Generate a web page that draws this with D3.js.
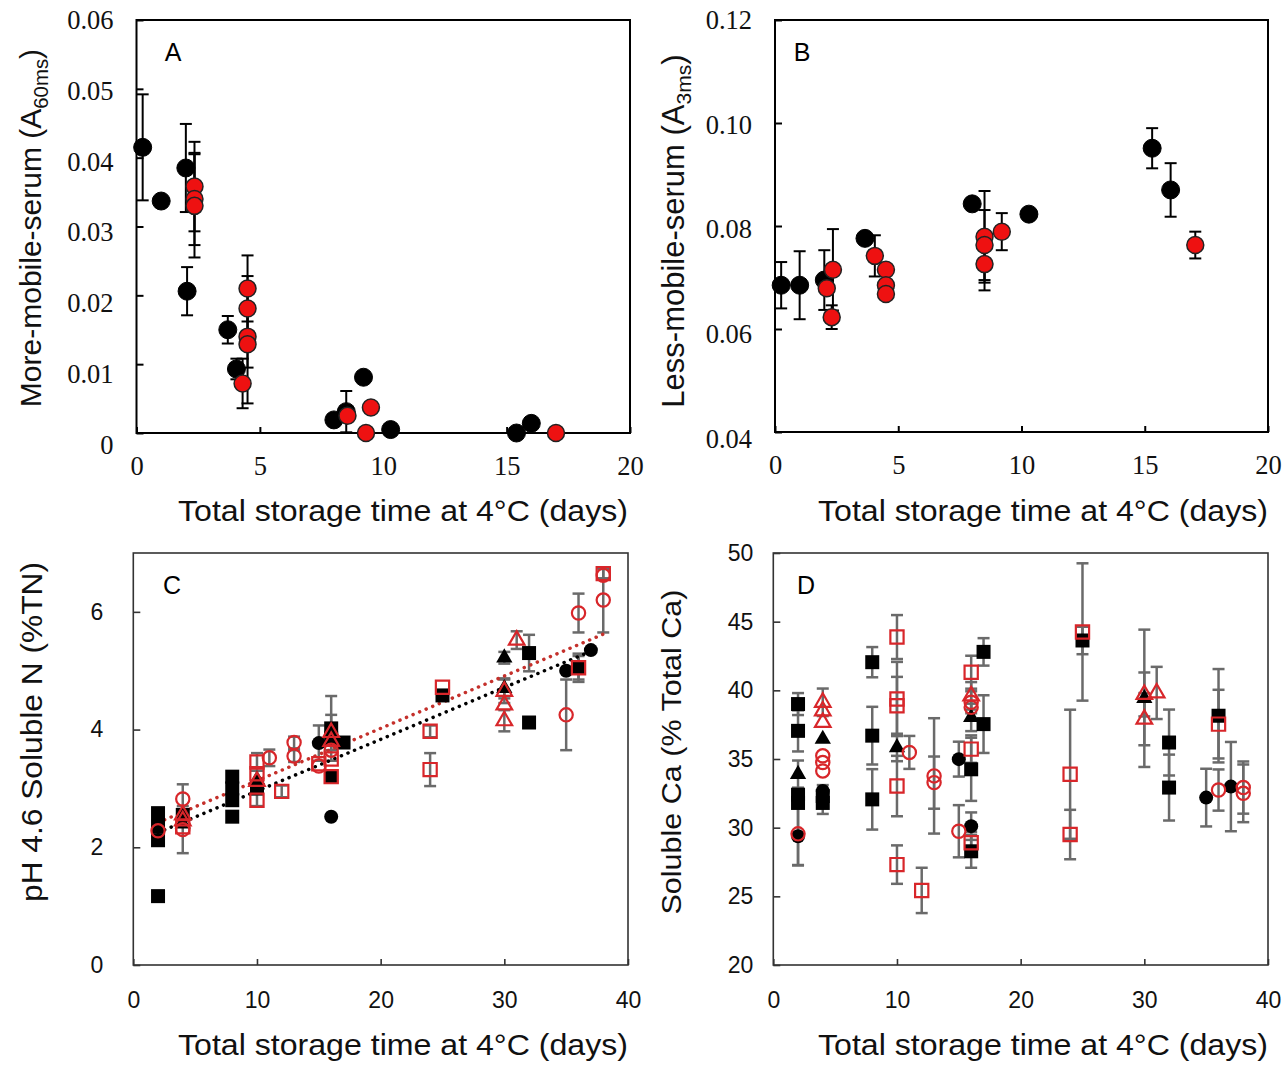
<!DOCTYPE html>
<html>
<head>
<meta charset="utf-8">
<script src="https://cdn.jsdelivr.net/npm/d3@7"></script>
<style>
  body { margin: 0; background: #fff; }
  svg { display: block; }
</style>
</head>
<body>
<script>
// Each point: [day, value, error]  (error 0 = no bar drawn)

// Panel A - more-mobile-serum
const aBlack = [
  [0.25, 0.0415, 0.0077], [1.0, 0.0337, 0], [2.0, 0.0385, 0.0064], [2.05, 0.0206, 0.0035],
  [3.7, 0.0150, 0.0020], [4.05, 0.0093, 0.0015], [8.0, 0.0019, 0], [8.5, 0.0031, 0.0030],
  [9.2, 0.0081, 0], [10.3, 0.0005, 0], [15.4, 0.0000, 0], [16.0, 0.0014, 0]
];
const aRed = [
  [2.35, 0.0358, 0.0065], [2.35, 0.0340, 0.0067], [2.35, 0.0330, 0.0075], [4.5, 0.0210, 0.0048],
  [4.5, 0.0181, 0.0047], [4.5, 0.0140, 0.0045], [4.5, 0.0129, 0.0086], [4.3, 0.0072, 0.0036],
  [8.55, 0.0025, 0], [9.5, 0.0037, 0], [9.3, 0.0000, 0], [17.0, 0.0000, 0]
];

// Panel B - less-mobile-serum
const bBlack = [
  [0.25, 0.0685, 0.0045], [1.0, 0.0685, 0.0066], [2.0, 0.0695, 0.0058], [3.65, 0.0776, 0],
  [8.0, 0.0843, 0], [10.3, 0.0823, 0], [15.3, 0.0951, 0.0039], [16.05, 0.0870, 0.0052]
];
const bRed = [
  [2.35, 0.0715, 0.0079], [2.1, 0.0679, 0], [2.3, 0.0623, 0.0023], [4.05, 0.0742, 0.0040],
  [4.5, 0.0715, 0], [4.5, 0.0685, 0], [4.5, 0.0668, 0], [8.5, 0.0779, 0.0089],
  [8.5, 0.0763, 0.0068], [8.5, 0.0726, 0.0051], [9.2, 0.0789, 0.0036], [17.05, 0.0763, 0.0026]
];

// Panel C - pH 4.6 soluble N
const cSquareBlack = [
  [2, 2.58, 0], [2, 2.35, 0], [2, 2.12, 0], [2, 1.17, 0], [4, 2.55, 0],
  [8, 3.20, 0], [8, 3.00, 0], [8, 2.80, 0], [8, 2.52, 0], [10, 3.00, 0],
  [16, 4.02, 0.55], [16, 3.85, 0], [16, 3.20, 0], [17, 3.78, 0], [25, 4.58, 0],
  [32, 5.30, 0.31], [32, 4.12, 0], [36, 5.05, 0.24]
];
const cCircleBlack = [[15, 3.77, 0.30], [16, 2.52, 0], [35, 5.00, 0], [37, 5.35, 0]];
const cTriBlack = [[4, 2.40, 0], [10, 3.15, 0], [16, 3.95, 0], [30, 5.22, 0.10], [30, 4.70, 0.17]];
const cSquareRed = [
  [4, 2.35, 0], [10, 3.45, 0.15], [10, 3.25, 0], [10, 2.80, 0.10], [12, 2.95, 0.10],
  [15, 3.42, 0], [16, 3.50, 0], [16, 3.20, 0], [24, 3.97, 0.10], [24, 3.32, 0.28],
  [25, 4.72, 0], [36, 5.05, 0.20], [38, 6.65, 0.08]
];
const cCircleRed = [
  [2, 2.28, 0], [4, 2.82, 0.25], [4, 2.30, 0.40], [11, 3.52, 0.14], [13, 3.78, 0.10],
  [13, 3.55, 0.10], [15, 3.38, 0], [16, 3.65, 0], [35, 4.25, 0.60], [36, 5.98, 0.33],
  [38, 6.62, 0], [38, 6.20, 0.55]
];
const cTriRed = [
  [4, 2.55, 0], [4, 2.45, 0], [10, 3.12, 0], [16, 3.95, 0.30], [16, 3.80, 0],
  [30, 4.65, 0.20], [30, 4.42, 0], [30, 4.15, 0.18], [31, 5.52, 0.15]
];
const cTrendBlack = [[2, 2.25], [37, 5.33]];
const cTrendRed = [[2, 2.42], [38, 5.62]];

// Panel D - soluble Ca
const dSquareBlack = [
  [2, 39.0, 0.8], [2, 37.05, 1.5], [2, 32.4, 0.5], [2, 31.8, 0], [4, 32.3, 0.8], [4, 31.8, 0.8],
  [8, 42.05, 1.1], [8, 36.7, 2.1], [8, 32.06, 2.2], [16, 34.25, 2.3], [16, 28.28, 1.2],
  [17, 42.8, 1.0], [17, 37.54, 2.1], [25, 43.63, 1.0], [32, 36.2, 2.4], [32, 32.92, 2.4],
  [36, 38.15, 3.4]
];
const dCircleBlack = [[2, 29.38, 2.1], [4, 32.67, 0], [15, 34.99, 1.27], [16, 30.11, 1.0], [35, 32.19, 2.1], [37, 32.99, 3.25]];
const dTriBlack = [[2, 33.89, 1.0], [4, 36.45, 0], [10, 35.84, 1.0], [16, 38.03, 1.0], [30, 39.42, 5.0]];
const dSquareRed = [
  [10, 43.88, 1.6], [10, 39.37, 2.7], [10, 38.88, 2.1], [10, 33.03, 2.2], [10, 27.31, 1.4],
  [12, 25.43, 1.65], [16, 41.32, 1.2], [16, 35.72, 1.0], [16, 28.9, 0.8], [24, 33.89, 4.7],
  [24, 29.5, 1.8], [25, 44.25, 5.0], [36, 37.54, 2.5]
];
const dCircleRed = [
  [2, 29.55, 2.3], [4, 35.23, 0], [4, 34.74, 0], [4, 34.13, 0], [11, 35.48, 1.2], [13, 33.77, 4.2],
  [13, 33.28, 1.9], [15, 29.74, 1.9], [16, 39.13, 0.8], [16, 38.76, 0], [36, 32.74, 1.5],
  [38, 32.92, 1.9], [38, 32.5, 2.1]
];
const dTriRed = [[4, 39.13, 1.0], [4, 38.5, 0], [4, 37.67, 0], [16, 39.6, 1.0], [30, 39.7, 1.6], [30, 37.9, 1.9], [31, 39.81, 1.9]];

// axis ticks
const abTicksX = [0, 5, 10, 15, 20];
const cdTicksX = [0, 10, 20, 30, 40];
const aTicksY = [0, 0.01, 0.02, 0.03, 0.04, 0.05, 0.06];
const bTicksY = [0.04, 0.06, 0.08, 0.10, 0.12];
const cTicksY = [0, 2, 4, 6];
const dTicksY = [20, 25, 30, 35, 40, 45, 50];

const xTitle = "Total storage time at 4°C (days)";
const RED = "#d8262a", GREY = "#6a6a6a";

const svg = d3.select("body").append("svg")
  .attr("width", 1287).attr("height", 1067);

function makePanel(o) {
  const x = d3.scaleLinear().domain(o.xDomain).range([o.x0, o.x1]);
  const y = d3.scaleLinear().domain(o.yDomain).range([o.y1, o.y0]);
  // the top-row labels sit on a slightly longer scale than the ticks
  const yLab = d3.scaleLinear().domain(o.yDomain).range([o.y1 + (o.labStretch || 0), o.y0]);
  const g = svg.append("g");

  // frame
  g.append("rect")
    .attr("x", o.x0).attr("y", o.y0)
    .attr("width", o.x1 - o.x0).attr("height", o.y1 - o.y0)
    .attr("fill", "none").attr("stroke", o.frame).attr("stroke-width", o.frameW);

  const ax = g.append("g").attr("transform", `translate(0,${o.y1})`)
    .call(d3.axisBottom(x).tickValues(o.xTicks).tickSizeInner(-6).tickSizeOuter(0).tickPadding(o.xPad));
  const ay = g.append("g").attr("transform", `translate(${o.x0},0)`)
    .call(d3.axisLeft(y).tickValues(o.yTicks).tickFormat(o.yFormat).tickSizeInner(-7).tickSizeOuter(0).tickPadding(o.yPad));
  [ax, ay].forEach(a => {
    a.select(".domain").remove();
    a.selectAll(".tick line").attr("stroke", o.frame).attr("stroke-width", o.frameW);
    a.selectAll(".tick text")
      .attr("font-family", o.tickFont).attr("font-size", o.tickSize).attr("fill", "#111");
  });
  ay.selectAll(".tick text").attr("y", d => yLab(d) - y(d));

  // panel letter
  g.append("text").attr("x", o.letterX).attr("y", o.y0 + 41)
    .attr("font-family", "Liberation Sans, Arial, sans-serif").attr("font-size", 25)
    .attr("text-anchor", "middle").text(o.letter);

  // x title
  g.append("text").attr("x", o.xTitleX).attr("y", o.xTitleY)
    .attr("font-family", "Liberation Sans, Arial, sans-serif").attr("font-size", 29)
    .attr("textLength", 450).attr("lengthAdjust", "spacingAndGlyphs")
    .attr("text-anchor", "middle").attr("fill", "#111").text(xTitle);

  // y title
  const yt = g.append("text")
    .attr("transform", `translate(${o.yTitleX},${o.yTitleY}) rotate(-90)`)
    .attr("font-family", "Liberation Sans, Arial, sans-serif").attr("font-size", o.yTitleSize)
    .attr("text-anchor", "middle").attr("fill", "#111");
  if (o.yTitleLen) yt.attr("textLength", o.yTitleLen).attr("lengthAdjust", "spacingAndGlyphs");
  yt.append("tspan").text(o.yTitle[0]);
  if (o.yTitle[1]) {
    yt.append("tspan").attr("dy", 7).attr("font-size", o.yTitleSize * 0.68).text(o.yTitle[1]);
    yt.append("tspan").attr("dy", -7).text(o.yTitle[2]);
  }

  const plot = g.append("g");
  return { x, y, plot };
}

function errorBars(p, data, color, width, cap) {
  const d = data.filter(v => v[2] > 0);
  const eb = p.plot.append("g").attr("stroke", color).attr("stroke-width", width).attr("fill", "none");
  eb.selectAll(".stem").data(d).join("line")
    .attr("x1", v => p.x(v[0])).attr("x2", v => p.x(v[0]))
    .attr("y1", v => p.y(v[1] - v[2])).attr("y2", v => p.y(v[1] + v[2]));
  eb.selectAll(".capT").data(d).join("line")
    .attr("x1", v => p.x(v[0]) - cap).attr("x2", v => p.x(v[0]) + cap)
    .attr("y1", v => p.y(v[1] + v[2])).attr("y2", v => p.y(v[1] + v[2]));
  eb.selectAll(".capB").data(d).join("line")
    .attr("x1", v => p.x(v[0]) - cap).attr("x2", v => p.x(v[0]) + cap)
    .attr("y1", v => p.y(v[1] - v[2])).attr("y2", v => p.y(v[1] - v[2]));
}

function markers(p, data, type, size, fill, stroke, sw) {
  p.plot.append("g").selectAll("path").data(data).join("path")
    .attr("d", d3.symbol().type(type).size(size))
    .attr("transform", v => `translate(${p.x(v[0])},${p.y(v[1])})`)
    .attr("fill", fill).attr("stroke", stroke).attr("stroke-width", sw);
}

const serif = "Liberation Serif, Times New Roman, serif";
const sans = "Liberation Sans, Arial, sans-serif";

// ---- A ----
const pA = makePanel({
  x0: 136.5, x1: 630, y0: 20, y1: 433, xDomain: [0, 20], yDomain: [0, 0.06],
  xTicks: abTicksX, yTicks: aTicksY, yFormat: d => d === 0 ? "0" : d.toFixed(2),
  frame: "#000", frameW: 2, tickFont: serif, tickSize: 26.5, xPad: 23, yPad: 23, labStretch: 12,
  letter: "A", letterX: 173, xTitleX: 403, xTitleY: 521,
  yTitle: ["More-mobile-serum (A", "60ms", ")"], yTitleX: 41, yTitleY: 228, yTitleSize: 30
});
errorBars(pA, aBlack, "#000", 2, 6);
errorBars(pA, aRed, "#000", 2, 6);
markers(pA, aBlack, d3.symbolCircle, Math.PI * 81, "#000", "#000", 1);
markers(pA, aRed, d3.symbolCircle, Math.PI * 72, "#ee1111", "#222", 1.5);

// ---- B ----
const pB = makePanel({
  x0: 775, x1: 1268, y0: 20, y1: 432, xDomain: [0, 20], yDomain: [0.04, 0.12],
  xTicks: abTicksX, yTicks: bTicksY, yFormat: d => d.toFixed(2),
  frame: "#000", frameW: 2, tickFont: serif, tickSize: 26.5, xPad: 23, yPad: 23, labStretch: 7,
  letter: "B", letterX: 802, xTitleX: 1043, xTitleY: 521,
  yTitle: ["Less-mobile-serum (A", "3ms", ")"], yTitleX: 684, yTitleY: 231, yTitleSize: 31
});
errorBars(pB, bBlack, "#000", 2, 6);
errorBars(pB, bRed, "#000", 2, 6);
markers(pB, bBlack, d3.symbolCircle, Math.PI * 81, "#000", "#000", 1);
markers(pB, bRed, d3.symbolCircle, Math.PI * 72, "#ee1111", "#222", 1.5);

// ---- C ----
const pC = makePanel({
  x0: 133.3, x1: 628, y0: 553, y1: 965, xDomain: [0, 40], yDomain: [0, 7],
  xTicks: cdTicksX, yTicks: cTicksY, yFormat: d3.format("d"),
  frame: "#333", frameW: 1.6, tickFont: sans, tickSize: 23, xPad: 27, yPad: 30,
  letter: "C", letterX: 172, xTitleX: 403, xTitleY: 1055,
  yTitle: ["pH 4.6 Soluble N (%TN)"], yTitleX: 42, yTitleY: 732, yTitleSize: 30, yTitleLen: 340
});
const cAll = [cSquareBlack, cCircleBlack, cTriBlack, cSquareRed, cCircleRed, cTriRed];
cAll.forEach(s => errorBars(pC, s, GREY, 2.5, 6));
[cTrendBlack, cTrendRed].forEach((t, i) => {
  pC.plot.append("line")
    .attr("x1", pC.x(t[0][0])).attr("y1", pC.y(t[0][1]))
    .attr("x2", pC.x(t[1][0])).attr("y2", pC.y(t[1][1]))
    .attr("stroke", i ? "#c4302b" : "#000").attr("stroke-width", 3.5)
    .attr("stroke-linecap", "round").attr("stroke-dasharray", "0.1,7");
});
markers(pC, cSquareBlack, d3.symbolSquare, 196, "#000", "none", 0);
markers(pC, cCircleBlack, d3.symbolCircle, Math.PI * 49, "#000", "none", 0);
markers(pC, cTriBlack, d3.symbolTriangle, 115, "#000", "none", 0);
markers(pC, cSquareRed, d3.symbolSquare, 175, "none", RED, 2.2);
markers(pC, cCircleRed, d3.symbolCircle, Math.PI * 44, "none", RED, 2.2);
markers(pC, cTriRed, d3.symbolTriangle, 105, "none", RED, 2.2);

// ---- D ----
const pD = makePanel({
  x0: 773.3, x1: 1268, y0: 553, y1: 965, xDomain: [0, 40], yDomain: [20, 50],
  xTicks: cdTicksX, yTicks: dTicksY, yFormat: d3.format("d"),
  frame: "#333", frameW: 1.6, tickFont: sans, tickSize: 23, xPad: 27, yPad: 20,
  letter: "D", letterX: 806, xTitleX: 1043, xTitleY: 1055,
  yTitle: ["Soluble Ca (% Total Ca)"], yTitleX: 681, yTitleY: 752, yTitleSize: 27, yTitleLen: 325
});
const dAll = [dSquareBlack, dCircleBlack, dTriBlack, dSquareRed, dCircleRed, dTriRed];
dAll.forEach(s => errorBars(pD, s, GREY, 2.5, 6));
markers(pD, dSquareBlack, d3.symbolSquare, 196, "#000", "none", 0);
markers(pD, dCircleBlack, d3.symbolCircle, Math.PI * 49, "#000", "none", 0);
markers(pD, dTriBlack, d3.symbolTriangle, 115, "#000", "none", 0);
markers(pD, dSquareRed, d3.symbolSquare, 175, "none", RED, 2.2);
markers(pD, dCircleRed, d3.symbolCircle, Math.PI * 44, "none", RED, 2.2);
markers(pD, dTriRed, d3.symbolTriangle, 105, "none", RED, 2.2);
</script>
</body>
</html>
